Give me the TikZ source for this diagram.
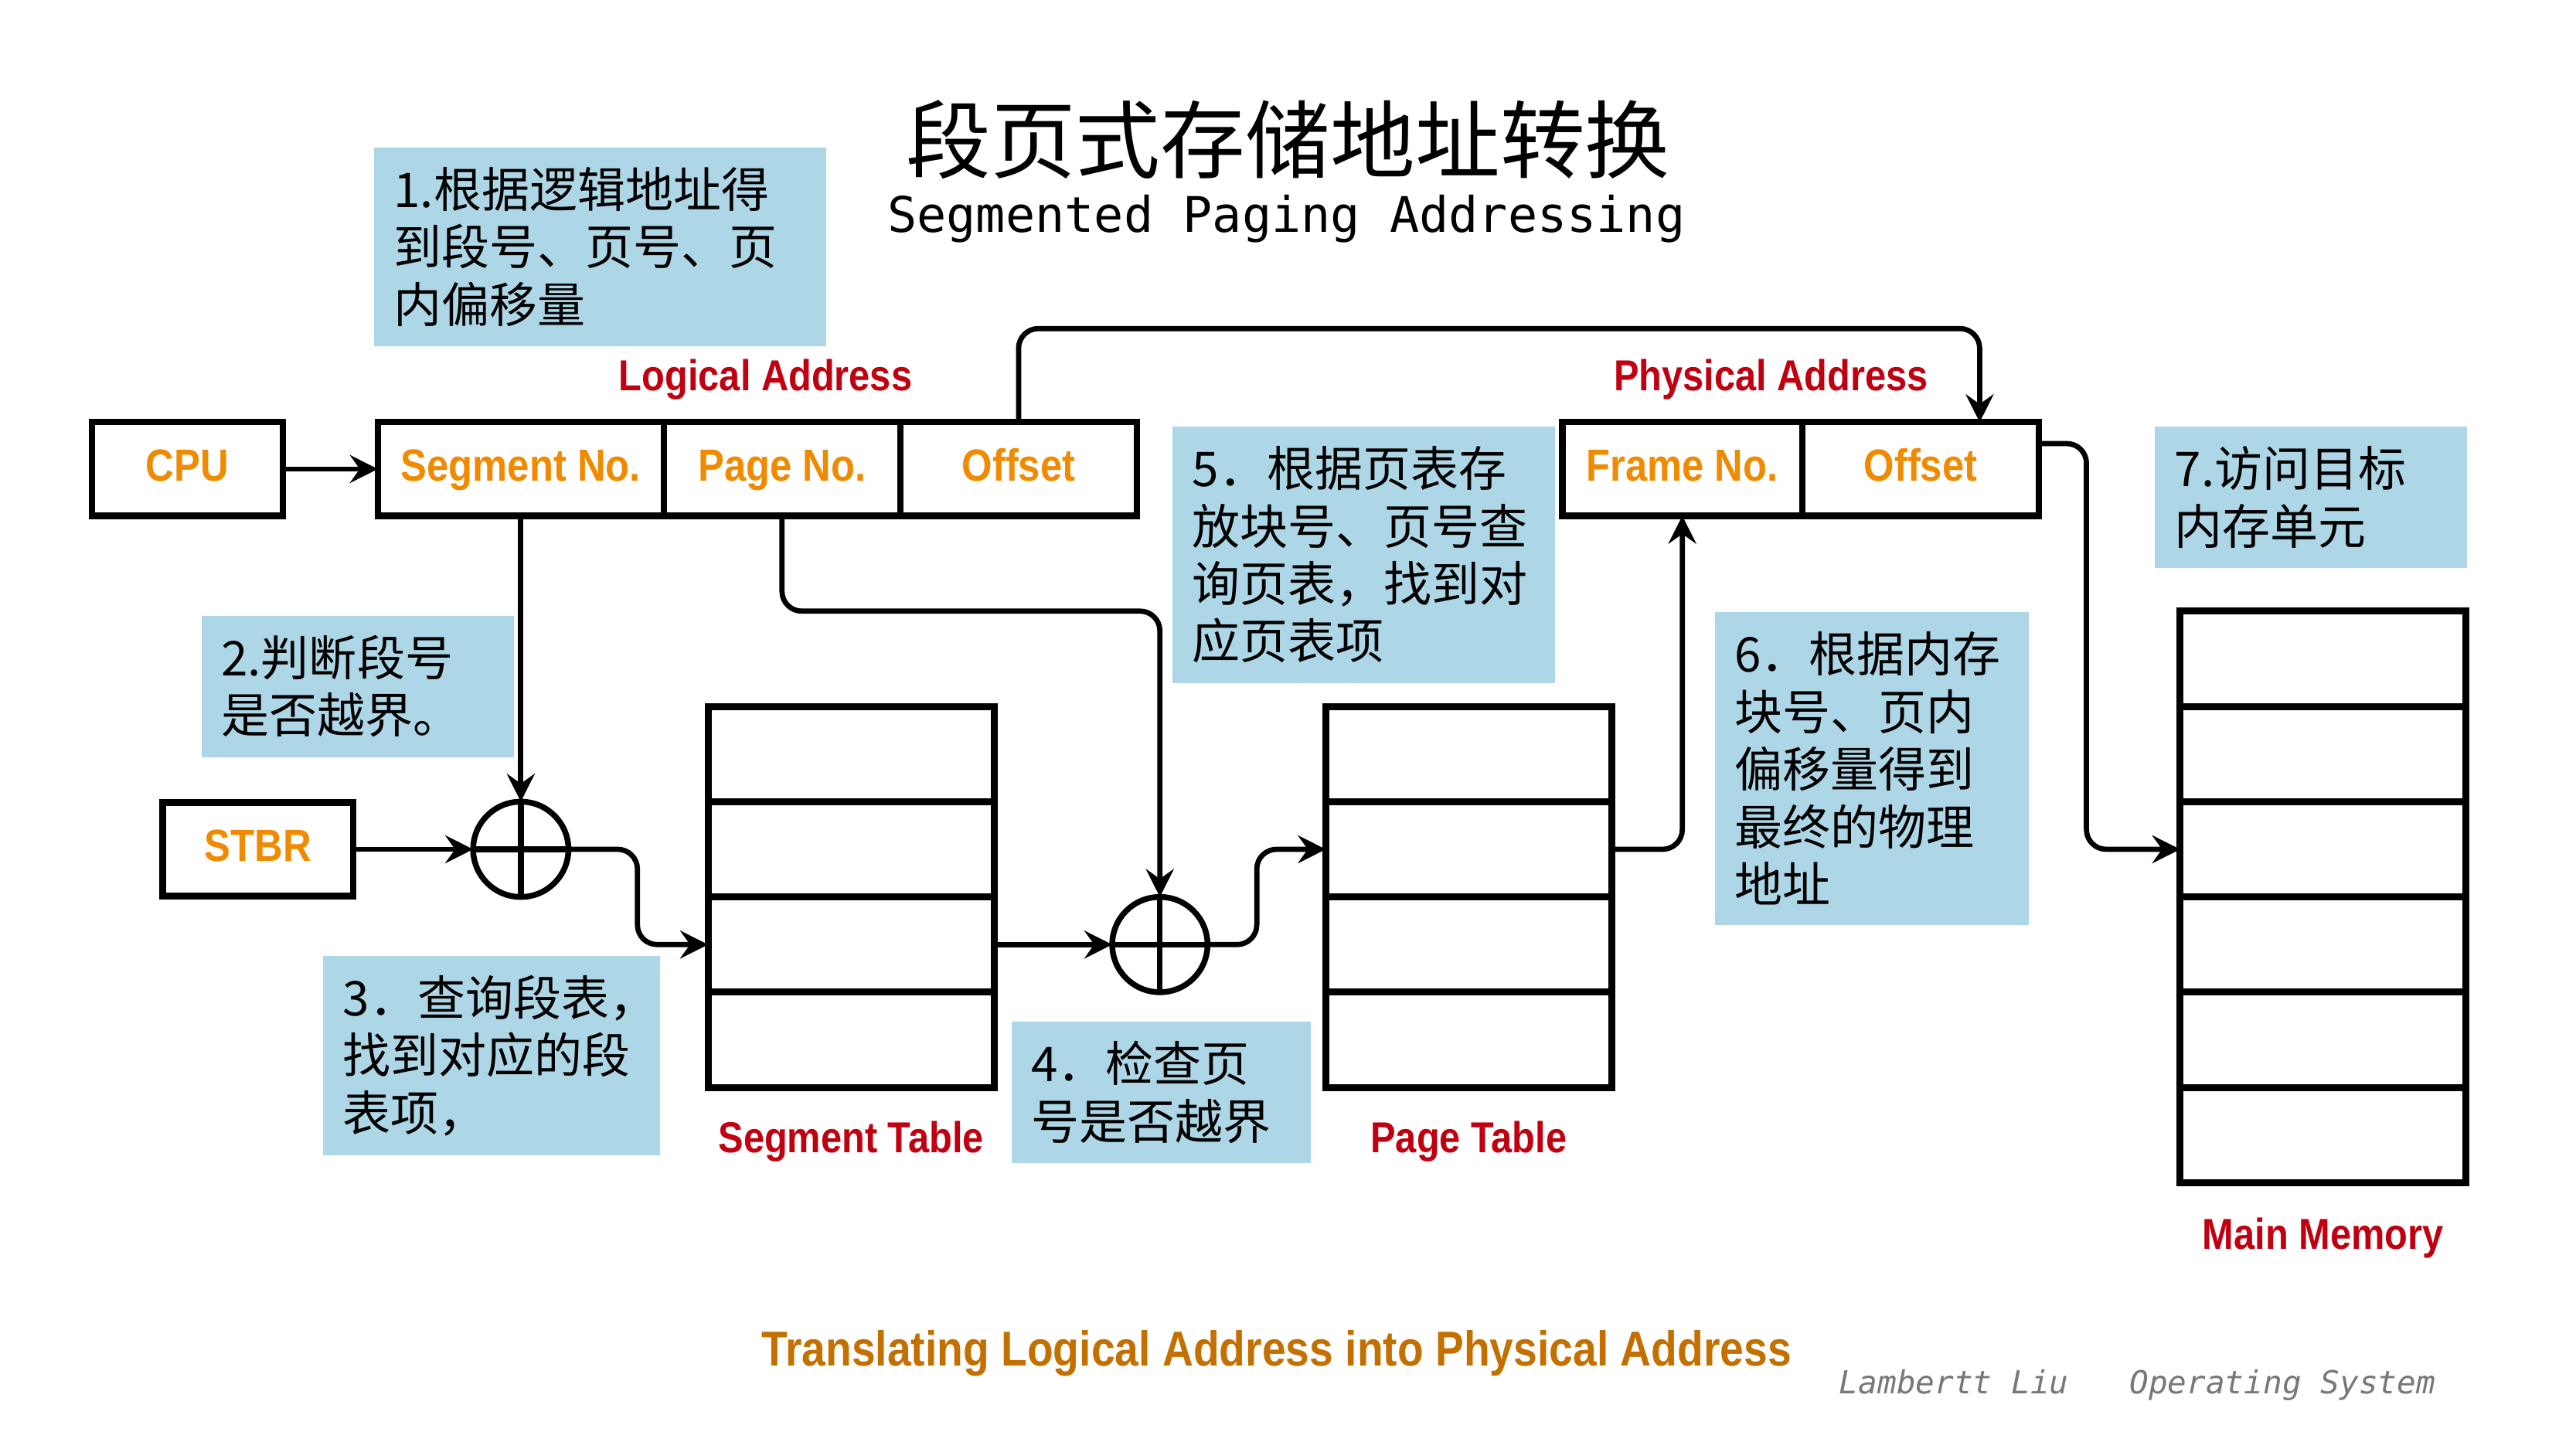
\documentclass[tikz,border=0pt]{standalone}
\usepackage{fontspec}
\usepackage{xcolor}
\usepackage{tikz}
\usetikzlibrary{arrows.meta,positioning,calc}
\newfontfamily\cjk{Noto Sans CJK SC}
\newfontfamily\lblfont[FakeStretch=0.87]{Liberation Sans}
\newfontfamily\monofont{DejaVu Sans Mono}
\definecolor{notebg}{RGB}{173,215,230}
\definecolor{cellorange}{RGB}{240,138,0}
\definecolor{labelred}{RGB}{192,0,16}
\definecolor{captionorange}{RGB}{196,112,0}
\definecolor{signgray}{RGB}{120,120,120}

\begin{document}
\begin{tikzpicture}[
  addrcell/.style={draw, line width=1.1pt, minimum height=0.57cm, inner sep=0pt, outer sep=0pt,
                   text height=5.8pt, text depth=1.6pt,
                   font=\lblfont\bfseries\fontsize{7.8}{9}\selectfont, text=cellorange},
  memrow/.style={draw, line width=1.2pt, minimum width=1.74cm, minimum height=0.58cm,
                 inner sep=0pt, outer sep=0pt},
  adder/.style={draw, circle, line width=1pt, minimum size=0.58cm, inner sep=0pt, outer sep=0pt},
  note/.style={fill=notebg, anchor=north west, inner sep=0.12cm, align=left,
               font=\cjk\fontsize{8.3}{9.96}\selectfont},
  tablabel/.style={font=\lblfont\bfseries\fontsize{7.5}{9}\selectfont, text=labelred},
  arrow/.style={-{Stealth[length=1.7mm, width=1.7mm, inset=0.6mm]}, line width=0.9pt},
]
  \useasboundingbox (0,0) rectangle (15.68,-8.82);

  % ---- Title ----
  \node[font=\cjk\fontsize{14.7}{16}\selectfont] (title) at (7.84,-0.85) {段页式存储地址转换};
  \node[font=\monofont\fontsize{8.5}{10}\selectfont] (subtitle) at (7.83,-1.33) {Segmented Paging Addressing};

  % ---- Registers and addresses ----
  \node[addrcell, minimum width=1.16cm] (cpu) at (1.14,-2.855) {CPU};
  \node[addrcell, minimum width=1.74cm] (segno) at (3.17,-2.855) {Segment No.};
  \node[addrcell, minimum width=1.44cm, right=0pt of segno] (pageno) {Page No.};
  \node[addrcell, minimum width=1.44cm, right=0pt of pageno] (offl) {Offset};
  \node[tablabel] (logical) at (4.66,-2.31) {Logical Address};

  \node[addrcell, minimum width=1.46cm] (frame) at (10.24,-2.855) {Frame No.};
  \node[addrcell, minimum width=1.44cm, right=0pt of frame] (offp) {Offset};
  \node[tablabel] (physical) at (10.78,-2.31) {Physical Address};

  \node[addrcell, minimum width=1.16cm] (stbr) at (1.57,-5.17) {STBR};

  % ---- Adders ----
  \node[adder] (add1) at (segno |- stbr) {};

  % ---- Segment table ----
  \node[memrow] (seg1) at (5.18,-4.59) {};
  \node[memrow, below=0pt of seg1] (seg2) {};
  \node[memrow, below=0pt of seg2] (seg3) {};
  \node[memrow, below=0pt of seg3] (seg4) {};
  \node[tablabel, below=0.08cm of seg4] (segtab) {Segment Table};

  \node[adder, right=0.72cm of seg3] (add2) {};

  % ---- Page table ----
  \node[memrow] (pg1) at (8.94,-4.59) {};
  \node[memrow, below=0pt of pg1] (pg2) {};
  \node[memrow, below=0pt of pg2] (pg3) {};
  \node[memrow, below=0pt of pg3] (pg4) {};
  \node[tablabel, below=0.08cm of pg4] (pgtab) {Page Table};

  % ---- Main memory ----
  \node[memrow] (mem1) at (14.14,-4.01) {};
  \node[memrow, below=0pt of mem1] (mem2) {};
  \node[memrow, below=0pt of mem2] (mem3) {};
  \node[memrow, below=0pt of mem3] (mem4) {};
  \node[memrow, below=0pt of mem4] (mem5) {};
  \node[memrow, below=0pt of mem5] (mem6) {};
  \node[tablabel, below=0.09cm of mem6] (memlbl) {Main Memory};

  % ---- Notes ----
  \node[note, text width=2.51cm, minimum height=1.18cm] (n1) at (2.27,-0.89)
    {1.根据逻辑地址得\\到段号、页号、页\\内偏移量};
  \node[note, text width=1.66cm, minimum height=0.83cm] (n2) at (1.22,-3.74)
    {2.判断段号\\是否越界。};
  \node[note, text width=1.81cm, minimum height=1.17cm] (n3) at (1.96,-5.81)
    {3．查询段表，\\找到对应的段\\表项，};
  \node[note, text width=1.58cm, minimum height=0.83cm] (n4) at (6.15,-6.21)
    {4．检查页\\号是否越界};
  \node[note, text width=2.09cm, minimum height=1.53cm] (n5) at (7.13,-2.59)
    {5．根据页表存\\放块号、页号查\\询页表，找到对\\应页表项};
  \node[note, text width=1.67cm, minimum height=1.89cm] (n6) at (10.43,-3.72)
    {6．根据内存\\块号、页内\\偏移量得到\\最终的物理\\地址};
  \node[note, text width=1.66cm, minimum height=0.81cm] (n7) at (13.11,-2.59)
    {7.访问目标\\内存单元};

  % ---- Arrows ----
  \coordinate (bend) at (12.05,-2.0);
  \draw[arrow] (cpu) -- (segno);
  \draw[arrow, rounded corners=0.12cm] (offl.north) |- (bend) -- (bend |- offp.north);
  \draw[arrow] (segno.south) -- (add1.north);
  \draw[arrow] (stbr) -- (add1.west);
  \draw[line width=1pt] (add1.north) -- (add1.south) (add1.west) -- (add1.east);
  \draw[arrow, rounded corners=0.12cm] (add1.east) -- ++(0.42,0) |- (seg3.west);
  \draw[arrow] (seg3.east) -- (add2.west);
  \draw[arrow, rounded corners=0.12cm] (pageno.south) -- ++(0,-0.58) -| (add2.north);
  \draw[line width=1pt] (add2.north) -- (add2.south) (add2.west) -- (add2.east);
  \draw[arrow, rounded corners=0.12cm] (add2.east) -- ++(0.3,0) |- (pg2.west);
  \draw[arrow, rounded corners=0.12cm] (pg2.east) -| (frame.south);
  \draw[arrow, rounded corners=0.12cm] ($(offp.north east)+(0,-0.13)$) -- ++(0.29,0) |- (mem3.west);

  % ---- Footer ----
  \node[font=\lblfont\bfseries\fontsize{8.5}{10}\selectfont, text=captionorange] (caption) at (7.77,-8.24)
    {Translating Logical Address into Physical Address};
  \node[font=\monofont\itshape\fontsize{5.5}{7}\selectfont, text=signgray] (sign) at (13.01,-8.43)
    {Lambertt Liu\hspace{0.37cm}Operating System};
\end{tikzpicture}
\end{document}
